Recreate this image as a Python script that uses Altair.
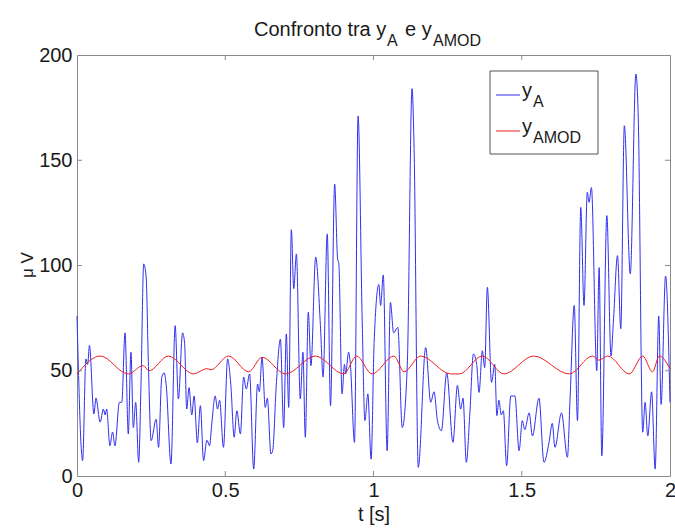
import altair as alt
import pandas as pd

# ---- data ----
t_a = [0.000, 0.019, 0.030, 0.036, 0.042, 0.057, 0.064, 0.078, 0.089, 0.095,
       0.100, 0.111, 0.120, 0.128, 0.143, 0.151, 0.162, 0.173, 0.182, 0.190,
       0.198, 0.208, 0.216, 0.225, 0.233, 0.241, 0.250, 0.267, 0.275, 0.286,
       0.294, 0.301, 0.317, 0.331, 0.342, 0.356, 0.363, 0.370, 0.378, 0.387,
       0.395, 0.406, 0.416, 0.427, 0.438, 0.447, 0.455, 0.466, 0.474, 0.481,
       0.494, 0.508, 0.519, 0.530, 0.539, 0.551, 0.562, 0.571, 0.582, 0.596,
       0.609, 0.615, 0.624, 0.635, 0.642, 0.654, 0.660, 0.672, 0.686, 0.697,
       0.706, 0.714, 0.723, 0.731, 0.740, 0.753, 0.762, 0.770, 0.780, 0.789,
       0.805, 0.821, 0.830, 0.844, 0.855, 0.869, 0.879, 0.883, 0.894, 0.902,
       0.906, 0.916, 0.922, 0.936, 0.948, 0.962, 0.971, 0.981, 0.992, 1.002,
       1.018, 1.024, 1.033, 1.046, 1.057, 1.068, 1.082, 1.097, 1.114, 1.130,
       1.137, 1.151, 1.176, 1.193, 1.204, 1.216, 1.229, 1.247, 1.268, 1.283,
       1.294, 1.302, 1.313, 1.325, 1.337, 1.348, 1.356, 1.367, 1.375, 1.384,
       1.398, 1.409, 1.416, 1.423, 1.431, 1.438, 1.449, 1.463, 1.477, 1.491,
       1.502, 1.510, 1.525, 1.536, 1.558, 1.575, 1.592, 1.603, 1.612, 1.634,
       1.654, 1.663, 1.677, 1.688, 1.699, 1.710, 1.721, 1.727, 1.735, 1.753,
       1.761, 1.770, 1.787, 1.801, 1.809, 1.823, 1.834, 1.846, 1.866, 1.885,
       1.893, 1.908, 1.916, 1.925, 1.938, 1.950, 1.962, 1.970, 1.985, 2.000]
v_a = [76, 7.3, 55.6, 53, 62, 29.5, 37, 25.6, 31.8, 29,
       31.8, 14.4, 20.9, 14.4, 35, 35, 68, 20, 58.8, 23,
       35, 6.5, 44.5, 100.7, 95, 52, 16.8, 27, 13.6, 47,
       49, 43, 5.7, 71.4, 36.6, 68, 63, 31.8, 42, 29,
       38, 15.7, 33.4, 7.3, 17, 14.4, 25.6, 38, 31.8, 36,
       13.6, 55.6, 43, 18.4, 31, 20, 47, 41.3, 48.5, 3.3,
       43.7, 40, 56.4, 32.6, 37, 10.5, 12, 43, 65, 23,
       67.5, 32.6, 117, 89, 105.5, 36.6, 58.8, 18.4, 77.8, 52.4,
       104, 71.4, 47, 115, 33.4, 138.7, 103, 101, 39, 53,
       48.5, 58.8, 53, 16, 171, 73, 26.3, 39, 8, 63,
       91, 81, 95.5, 12, 82.5, 68, 70.6, 23, 53, 184,
       155, 4.1, 61, 35, 40, 26, 21.5, 49, 16, 43,
       31.8, 37, 6.5, 30, 58, 53, 39.7, 59.5, 51.5, 89.6,
       44.5, 53, 28.7, 36, 29, 31, 4.9, 38, 38, 12,
       26.3, 22, 30, 19, 37, 6.5, 16, 25, 13.6, 30,
       8.9, 37, 81, 26.3, 127.6, 81, 134.8, 130, 137, 50,
       99, 9.6, 123.7, 57, 73, 104.7, 70, 166.4, 96, 191,
       170, 20.8, 35, 19, 40, 3.3, 76, 34, 95, 35]

t_mod = [0.000, 0.078, 0.173, 0.223, 0.243, 0.308, 0.393, 0.438, 0.452, 0.511,
         0.579, 0.624, 0.703, 0.804, 0.900, 0.943, 0.995, 1.069, 1.103, 1.159,
         1.260, 1.290, 1.367, 1.440, 1.540, 1.660, 1.739, 1.760, 1.790, 1.863,
         1.908, 1.941, 1.964, 2.000]
v_mod = [48.5, 57, 48.5, 52.4, 50, 57, 48.5, 51, 50.5, 57,
         49.5, 56.4, 48.5, 57, 48.5, 57, 48.5, 57, 49.5, 57,
         48.5, 48.5, 57, 48.5, 57, 48.5, 57, 55, 57, 48.5,
         57, 49.5, 57, 51]

x_ticks = [0, 0.5, 1, 1.5, 2]
y_ticks = [0, 50, 100, 150, 200]

title_parts = ["Confronto tra y", "A", "e y", "AMOD"]
legend_names = ["A", "AMOD"]
x_title = "t [s]"
y_title = "\u03bc V"

# ---- layout ----
W, H = 593, 421
L, T = 77, 55
FONT = "Liberation Sans"
BLUE = "#3030f0"
RED = "#f02020"
BOX = "#8a8a8a"
TXT = "#1a1a1a"

df_a = pd.DataFrame({"t": t_a, "v": v_a})
df_m = pd.DataFrame({"t": t_mod, "v": v_mod})
one = pd.DataFrame({"d": [0]})

xs = alt.Scale(domain=[x_ticks[0], x_ticks[-1]], nice=False, zero=False)
ys = alt.Scale(domain=[y_ticks[0], y_ticks[-1]], nice=False)

xaxis = alt.Axis(values=x_ticks, format="~g", labelPadding=4)
yaxis = alt.Axis(values=y_ticks, format="d", labelPadding=5)

line_a = alt.Chart(df_a).mark_line(color=BLUE, strokeWidth=1, interpolate="monotone").encode(
    x=alt.X("t:Q", scale=xs, axis=xaxis, title=None),
    y=alt.Y("v:Q", scale=ys, axis=yaxis, title=None),
)
line_m = alt.Chart(df_m).mark_line(color=RED, strokeWidth=1, interpolate="monotone").encode(
    x=alt.X("t:Q", scale=xs),
    y=alt.Y("v:Q", scale=ys),
)

df_xt = pd.DataFrame({"t": x_ticks[1:-1]})
df_yt = pd.DataFrame({"v": y_ticks[1:-1]})
tk = 5
xt_b = alt.Chart(df_xt).mark_rule(color=BOX).encode(x=alt.X("t:Q", scale=xs), y=alt.value(H), y2=alt.value(H - tk))
xt_t = alt.Chart(df_xt).mark_rule(color=BOX).encode(x=alt.X("t:Q", scale=xs), y=alt.value(0), y2=alt.value(tk))
yt_l = alt.Chart(df_yt).mark_rule(color=BOX).encode(y=alt.Y("v:Q", scale=ys), x=alt.value(0), x2=alt.value(tk))
yt_r = alt.Chart(df_yt).mark_rule(color=BOX).encode(y=alt.Y("v:Q", scale=ys), x=alt.value(W), x2=alt.value(W - tk))


def txt(s, x, y, size, align="left", angle=None, baseline="alphabetic"):
    kw = dict(text=s, align=align, baseline=baseline, fontSize=size, font=FONT, color=TXT)
    if angle is not None:
        kw["angle"] = angle
    return alt.Chart(one).mark_text(**kw).encode(x=alt.value(x - L), y=alt.value(y - T))


# title with subscripts
title = [
    txt(title_parts[0], 254, 36, 20),
    txt(title_parts[1], 387, 46, 16),
    txt(title_parts[2], 405, 36, 20),
    txt(title_parts[3], 433, 46, 16),
]

# axis titles
xt_title = txt(x_title, 374, 521, 20, align="center")
yt_title = txt(y_title, 28, 265, 17, align="center", angle=270, baseline="middle")

# legend
leg_box = alt.Chart(one).mark_rect(fill="white", stroke="#555555", strokeWidth=1).encode(
    x=alt.value(490 - L), x2=alt.value(598 - L), y=alt.value(71 - T), y2=alt.value(154 - T)
)
leg_l1 = alt.Chart(one).mark_rule(color=BLUE, strokeWidth=1).encode(
    x=alt.value(496 - L), x2=alt.value(520 - L), y=alt.value(95 - T))
leg_l2 = alt.Chart(one).mark_rule(color=RED, strokeWidth=1).encode(
    x=alt.value(496 - L), x2=alt.value(520 - L), y=alt.value(131 - T))
leg_t = [
    txt("y", 522, 97, 20),
    txt(legend_names[0], 533, 107, 16),
    txt("y", 522, 133, 20),
    txt(legend_names[1], 533, 143, 16),
]

chart = alt.layer(
    line_a, line_m, xt_b, xt_t, yt_l, yt_r,
    *title, xt_title, yt_title, leg_box, leg_l1, leg_l2, *leg_t
).properties(
    width=W, height=H,
    autosize=alt.AutoSizeParams(type="none"),
    padding={"left": L, "top": T, "right": 675 - L - W, "bottom": 532 - T - H},
    background="white",
).configure_view(
    stroke=BOX, strokeWidth=1
).configure_axis(
    grid=False, ticks=False, domain=False,
    labelFont=FONT, labelFontSize=20, labelColor=TXT,
    labelFlush=False, labelOverlap=False,
)

chart.save("out.html", embed_options={"renderer": "svg", "actions": False})
